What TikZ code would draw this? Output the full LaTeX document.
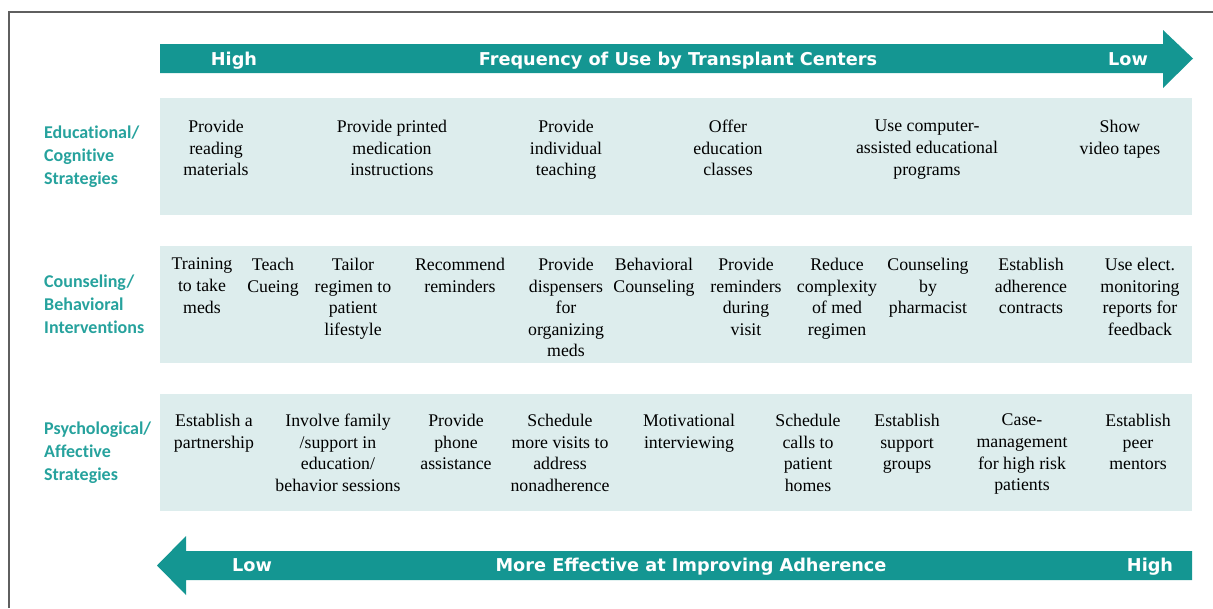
\documentclass[tikz,border=0pt]{standalone}
\usepackage{fontspec}
\setmainfont{Liberation Serif}
\newfontfamily\arrowfont{DejaVu Sans}
\newfontfamily\catfont[Ligatures=NoCommon]{Carlito}
\definecolor{arrowteal}{RGB}{20,150,146}
\definecolor{labteal}{RGB}{38,162,157}
\definecolor{bandfill}{RGB}{221,237,237}
\definecolor{framegray}{RGB}{95,95,95}
\begin{document}
\begin{tikzpicture}[x=1pt,y=-1pt,
  band/.style={fill=bandfill, draw=none, inner sep=0pt, minimum width=1032pt, minimum height=117pt},
  item/.style={align=center, inner sep=0pt, anchor=north, font=\fontsize{17.8}{21.6}\selectfont},
  cat/.style={align=left, inner sep=0pt, anchor=west, text=labteal, font=\catfont\bfseries\fontsize{18}{23}\selectfont},
  arrowtxt/.style={text=white, inner sep=0pt, anchor=base, font=\arrowfont\bfseries\fontsize{17.7}{20}\selectfont},
  bigarrow/.style={fill=arrowteal, draw=none}]
\useasboundingbox (0,0) rectangle (1213,608);

% frame
\draw[framegray, line width=1.3pt] (9,608) -- (9,12) -- (1213,12);

% top arrow: frequency of use
\fill[bigarrow] (160,44) -- (1163,44) -- (1163,30) -- (1193,58.5) -- (1163,88) -- (1163,73) -- (160,73) -- cycle;
\node[arrowtxt] (fhigh) at (234,65) {High};
\node[arrowtxt] (ftitle) at (678,65) {Frequency of Use by Transplant Centers};
\node[arrowtxt] (flow) at (1128,65) {Low};

% bottom arrow: effectiveness
\fill[bigarrow] (1192,551) -- (186,551) -- (186,536) -- (157,565.5) -- (186,595) -- (186,580) -- (1192,580) -- cycle;
\node[arrowtxt] (elow) at (252,571) {Low};
\node[arrowtxt] (etitle) at (691,571) {More Effective at Improving Adherence};
\node[arrowtxt] (ehigh) at (1150,571) {High};

% bands
\node[band] (b1) at (676,156.5) {};
\node[band] (b2) at (676,304.5) {};
\node[band] (b3) at (676,452.5) {};

% category labels
\node[cat] (c1) at (44,156.5) {Educational/\\Cognitive\\Strategies};
\node[cat] (c2) at (44,304.5) {Counseling/\\Behavioral\\Interventions};
\node[cat] (c3) at (44,452.5) {Psychological/\\Affective\\Strategies};

% educational / cognitive strategies
\node[item] (e1) at (216,120) {Provide\\reading\\materials};
\node[item] (e2) at (392,120) {Provide printed\\medication\\instructions};
\node[item] (e3) at (566,120) {Provide\\individual\\teaching};
\node[item] (e4) at (728,120) {Offer\\education\\classes};
\node[item] (e5) at (927,120) {Use computer-\\assisted educational\\programs};
\node[item] (e6) at (1120,120) {Show\\video tapes};

% counseling / behavioral interventions
\node[item] (k1) at (202,258) {Training\\to take\\meds};
\node[item] (k2) at (273,258) {Teach\\Cueing};
\node[item] (k3) at (353,258) {Tailor\\regimen to\\patient\\lifestyle};
\node[item] (k4) at (460,258) {Recommend\\reminders};
\node[item] (k5) at (566,258) {Provide\\dispensers\\for\\organizing\\meds};
\node[item] (k6) at (654,258) {Behavioral\\Counseling};
\node[item] (k7) at (746,258) {Provide\\reminders\\during\\visit};
\node[item] (k8) at (837,258) {Reduce\\complexity\\of med\\regimen};
\node[item] (k9) at (928,258) {Counseling\\by\\pharmacist};
\node[item] (k10) at (1031,258) {Establish\\adherence\\contracts};
\node[item] (k11) at (1140,258) {Use elect.\\monitoring\\reports for\\feedback};

% psychological / affective strategies
\node[item] (p1) at (214,414) {Establish a\\partnership};
\node[item] (p2) at (338,414) {Involve family\\/support in\\education/\\behavior sessions};
\node[item] (p3) at (456,414) {Provide\\phone\\assistance};
\node[item] (p4) at (560,414) {Schedule\\more visits to\\address\\nonadherence};
\node[item] (p5) at (689,414) {Motivational\\interviewing};
\node[item] (p6) at (808,414) {Schedule\\calls to\\patient\\homes};
\node[item] (p7) at (907,414) {Establish\\support\\groups};
\node[item] (p8) at (1022,414) {Case-\\management\\for high risk\\patients};
\node[item] (p9) at (1138,414) {Establish\\peer\\mentors};
\end{tikzpicture}
\end{document}
